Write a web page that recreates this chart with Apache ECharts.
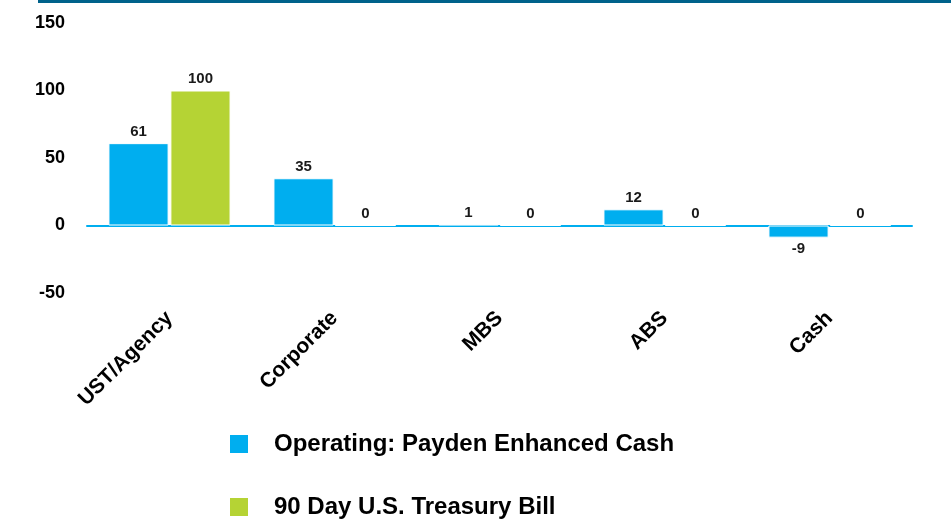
<!DOCTYPE html>
<html>
<head>
<meta charset="utf-8">
<script src="https://cdn.jsdelivr.net/npm/echarts@6/dist/echarts.min.js"></script>
<style>
  html, body { margin: 0; padding: 0; background: #fff; }
  #chart { width: 951px; height: 523px; }
</style>
</head>
<body>
<div id="chart"></div>
<script>
// data
const categories = ["UST/Agency", "Corporate", "MBS", "ABS", "Cash"];
const seriesNames = ["Operating: Payden Enhanced Cash", "90 Day U.S. Treasury Bill"];
const paydenValues = [61, 35, 1, 12, -9];
const tbillValues = [100, 0, 0, 0, 0];

const blue = "#00AEEF";
const green = "#B5D334";
const font = "'Liberation Sans', Arial, sans-serif";

function barSeries(name, values, color) {
  return {
    name: name,
    type: "bar",
    // labels go under negative bars, above the rest (zero included)
    data: values.map(function (v) {
      return { value: v, label: { position: v < 0 ? "bottom" : "top" } };
    }),
    barGap: "3%",
    barCategoryGap: "26%",
    itemStyle: {
      color: color,
      borderColor: "#fff",
      borderWidth: 1
    },
    label: {
      show: true,
      distance: 4,
      color: "#1a1a1a",
      fontFamily: font,
      fontWeight: "bold",
      fontSize: 15
    }
  };
}

const chart = echarts.init(document.getElementById("chart"));
chart.setOption({
  animation: false,
  graphic: [
    {
      // dark rule along the top edge
      type: "rect",
      left: 38,
      top: 0,
      shape: { width: 913, height: 3 },
      style: { fill: "#00628B" }
    }
  ],
  grid: {
    left: 87,
    right: 39,
    top: 23,
    bottom: 230
  },
  legend: {
    orient: "vertical",
    left: 228,
    top: 432,
    padding: 0,
    itemWidth: 20,
    itemHeight: 20,
    itemGap: 39,
    icon: "rect",
    textStyle: {
      color: "#000",
      fontFamily: font,
      fontWeight: "bold",
      fontSize: 24,
      padding: [0, 0, 0, 20]
    },
    data: seriesNames
  },
  xAxis: [
    {
      type: "category",
      data: categories,
      axisLine: { show: false, onZero: false },
      axisTick: { show: false },
      axisLabel: {
        rotate: 45,
        margin: 22,
        color: "#000",
        fontFamily: font,
        fontWeight: "bold",
        fontSize: 21
      }
    },
    {
      // blue zero line
      type: "category",
      data: categories,
      position: "top",
      axisLine: { show: true, onZero: true, lineStyle: { color: blue, width: 2 } },
      axisTick: { show: false },
      axisLabel: { show: false }
    }
  ],
  yAxis: {
    type: "value",
    min: -50,
    max: 150,
    interval: 50,
    axisLine: { show: false },
    axisTick: { show: false },
    splitLine: { show: false },
    axisLabel: {
      margin: 22,
      color: "#000",
      fontFamily: font,
      fontWeight: "bold",
      fontSize: 18
    }
  },
  series: [
    barSeries(seriesNames[0], paydenValues, blue),
    barSeries(seriesNames[1], tbillValues, green)
  ]
});
</script>
</body>
</html>
